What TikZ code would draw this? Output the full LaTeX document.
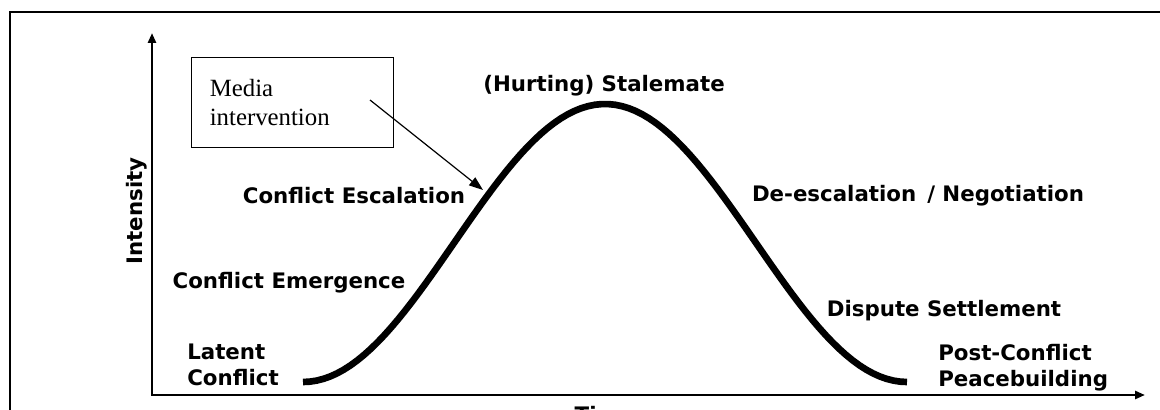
\documentclass[tikz,border=0pt]{standalone}
\usepackage{fontspec}
\setmainfont{Liberation Serif}
\newfontfamily\stagefont{DejaVu Sans}
\usepackage{tikz}
\usetikzlibrary{arrows.meta,positioning}

\tikzset{
  stage/.style={font=\stagefont\bfseries\fontsize{16}{19.5}\selectfont, inner sep=0pt, align=left},
  axis/.style={line width=2pt, {Triangle[length=7.5pt,width=6pt]}-{Triangle[length=7.5pt,width=6pt]}},
  note/.style={draw, line width=0.8pt, font=\fontsize{18.6}{21.8}\selectfont, align=left,
    text width=124pt, inner xsep=14pt, minimum width=152pt, minimum height=68pt},
}

\begin{document}
\begin{tikzpicture}[x=0.75pt,y=-0.75pt]
\useasboundingbox (0,0) rectangle (1160,410);
\clip (0,0) rectangle (1160,410);
\draw[line width=1.1pt] (10,12) rectangle (1180,430);

% axes
\coordinate (o) at (152,395);
\coordinate (ytip) at (152,33);
\coordinate (xtip) at (1145,395);
\draw[axis] (ytip) -- (o) -- (xtip);
\node[stage, rotate=90] (intensity) at (137,211) {Intensity};
\node[stage, anchor=north] (time) at (604,406) {Time};

% conflict curve
\draw[line width=5pt] plot[domain=303:907, samples=90]
  (\x, {382-139*(1+cos(0.596*(\x-605)))});

% stages
\node[stage] (stalemate) at (604,86) {(Hurting) Stalemate};
\node[stage] (escalation) at (354,196) {Conflict Escalation};
\node[stage] (emergence) at (289,283) {Conflict Emergence};
\node[stage, anchor=west] (latent) at (187,365) {Latent\\Conflict};
\node[stage] (deescalation) at (918,196) {De-escalation \,/ Negotiation};
\node[stage] (dispute) at (944,311) {Dispute Settlement};
\node[stage, anchor=west] (post) at (938,368) {Post-Conflict\\Peacebuilding};

% media box
\node[note] (media) at (292.5,102.5) {Media\\intervention};
\coordinate (mfrom) at (370,100);
\coordinate (mto) at (483,190);
\draw[line width=0.9pt, -{Triangle[length=10.5pt,width=7.5pt]}] (mfrom) -- (mto);
\end{tikzpicture}
\end{document}
